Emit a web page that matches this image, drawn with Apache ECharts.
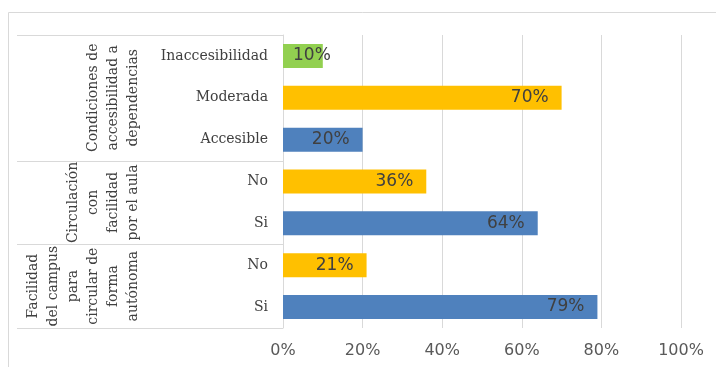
<!DOCTYPE html>
<html>
<head>
<meta charset="utf-8">
<script src="https://cdn.jsdelivr.net/npm/echarts@6/dist/echarts.min.js"></script>
<style>
  html, body { margin: 0; padding: 0; background: #ffffff; }
  #chart { width: 716px; height: 367px; }
</style>
</head>
<body>
<div id="chart"></div>
<script>
// Categories, top to bottom
const categories = ['Inaccesibilidad', 'Moderada', 'Accesible', 'No', 'Si', 'No', 'Si'];
// Percentages for each category
const values = [10, 70, 20, 36, 64, 21, 79];
// Outer grouping of the categories (rotated labels on the left)
const groupNames = [
  'Condiciones de\naccesibilidad a\ndependencias',
  'Circulación\ncon\nfacilidad\npor el aula',
  'Facilidad\ndel campus\npara\ncircular de\nforma\nautónoma'
];
const groupSizes = [3, 2, 2];
// Value axis ticks (percent)
const tickValues = [0, 20, 40, 60, 80, 100];

// Bar colour by answer type
const colourByCategory = {
  Inaccesibilidad: '#92D050',
  Moderada: '#FFC000',
  No: '#FFC000',
  Accesible: '#4F81BD',
  Si: '#4F81BD'
};

const GRID_LINE = '#d9d9d9';
const chart = echarts.init(document.getElementById('chart'), null, { renderer: 'canvas' });

const tickStep = tickValues[1] - tickValues[0];

chart.setOption({
  animation: false,
  grid: { left: 283, right: 35, top: 35, bottom: 39 },
  xAxis: {
    type: 'value',
    min: tickValues[0],
    max: tickValues[tickValues.length - 1],
    interval: tickStep,
    axisLine: { show: false },
    axisTick: { show: false },
    splitLine: { lineStyle: { color: GRID_LINE, width: 1 } },
    axisLabel: {
      formatter: v => v + '%',
      color: '#595959',
      fontFamily: 'DejaVu Sans',
      fontSize: 16,
      margin: 15
    }
  },
  yAxis: {
    type: 'category',
    inverse: true,
    data: categories,
    axisLine: { lineStyle: { color: GRID_LINE, width: 1 } },
    axisTick: { show: false },
    axisLabel: {
      color: '#404040',
      fontFamily: 'DejaVu Serif',
      fontSize: 14,
      margin: 15
    }
  },
  series: [{
    type: 'bar',
    barWidth: 24,
    data: values.map((v, i) => {
      const item = { value: v, itemStyle: { color: colourByCategory[categories[i]] } };
      // short bars: label starts near the bar origin
      if (v < 15) item.label = { position: 'insideLeft', distance: 10 };
      return item;
    }),
    label: {
      show: true,
      position: 'insideRight',
      distance: 13,
      formatter: p => p.value + '%',
      color: '#404040',
      fontFamily: 'DejaVu Sans',
      fontSize: 17
    }
  }]
});

// Category table lines and group labels placed from the axis scale
const yFirst = chart.convertToPixel({ yAxisIndex: 0 }, 0);
const ySecond = chart.convertToPixel({ yAxisIndex: 0 }, 1);
const band = ySecond - yFirst;
const tableTop = yFirst - band / 2;
const axisX = chart.convertToPixel({ xAxisIndex: 0 }, 0);
const tableLeft = 17;

const graphics = [{
  type: 'rect',
  shape: { x: 8.5, y: 12.5, width: 720, height: 400 },
  style: { fill: 'none', stroke: GRID_LINE, lineWidth: 1 },
  silent: true
}];

let start = 0;
const boundaries = [0];
groupSizes.forEach(n => { start += n; boundaries.push(start); });

boundaries.forEach(b => {
  const y = Math.round(tableTop + b * band) + 0.5;
  graphics.push({
    type: 'line',
    shape: { x1: tableLeft, y1: y, x2: axisX, y2: y },
    style: { stroke: GRID_LINE, lineWidth: 1 },
    silent: true
  });
});

groupNames.forEach((name, g) => {
  const yMid = tableTop + (boundaries[g] + boundaries[g + 1]) / 2 * band;
  graphics.push({
    type: 'text',
    x: 143,
    y: yMid,
    rotation: Math.PI / 2,
    silent: true,
    style: {
      text: name,
      fill: '#404040',
      font: '14px "DejaVu Serif"',
      lineHeight: 20,
      textAlign: 'center',
      textVerticalAlign: 'bottom',
      align: 'center',
      verticalAlign: 'bottom'
    }
  });
});

chart.setOption({ graphic: { elements: graphics } });
</script>
</body>
</html>
